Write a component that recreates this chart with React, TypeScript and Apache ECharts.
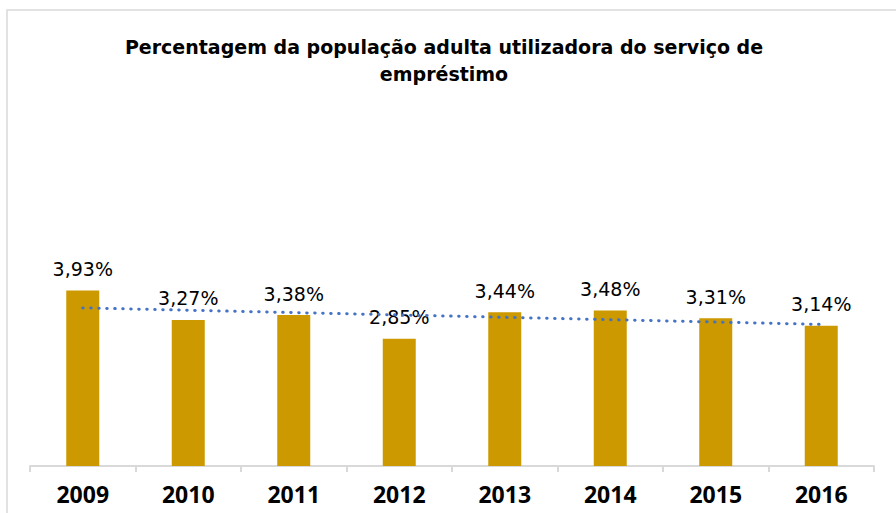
import React, { useEffect, useRef } from "react";
import * as echarts from "echarts";

const titleText = "Percentagem da população adulta utilizadora do serviço de\nempréstimo";
const years = ["2009", "2010", "2011", "2012", "2013", "2014", "2015", "2016"];
const values = [3.93, 3.27, 3.38, 2.85, 3.44, 3.48, 3.31, 3.14];
// linear trendline endpoints (first and last category)
const trendValues = [3.54, null, null, null, null, null, null, 3.17];

export default function App() {
  const ref = useRef<HTMLDivElement>(null);
  useEffect(() => {
    document.body.style.margin = "0";
    const chart = echarts.init(ref.current!, null, { renderer: "svg" });
    chart.setOption({
      animation: false,
      backgroundColor: "#ffffff",
      title: {
        text: titleText,
        left: 439,
        top: 28,
        textAlign: "center",
        textStyle: {
          fontFamily: "DejaVu Sans",
          fontWeight: "bold",
          fontSize: 19,
          lineHeight: 27,
          color: "#000000",
        },
      },
      graphic: [
        {
          type: "rect",
          shape: { x: 7, y: 10, width: 1200, height: 1200 },
          style: { fill: "none", stroke: "#d9d9d9", lineWidth: 1.5 },
          silent: true,
        },
      ],
      grid: { left: 30, right: 22, top: 265, bottom: 47 },
      xAxis: {
        type: "category",
        data: years,
        axisLine: { show: true, lineStyle: { color: "#d9d9d9", width: 2 } },
        axisTick: { show: true, length: 6, lineStyle: { color: "#d9d9d9", width: 2 } },
        axisLabel: {
          color: "#000000",
          fontFamily: "Open Sans",
          fontWeight: "bold",
          fontSize: 23,
          margin: 16,
        },
      },
      yAxis: {
        type: "value",
        min: 0,
        max: 4.5,
        show: false,
        splitLine: { show: false },
      },
      series: [
        {
          type: "bar",
          data: values,
          barWidth: 33,
          itemStyle: { color: "#cc9900" },
          label: {
            show: true,
            position: "top",
            distance: 12,
            formatter: (p: any) => p.value.toFixed(2).replace(".", ",") + "%",
            fontFamily: "DejaVu Sans",
            fontSize: 19,
            color: "#000000",
          },
          z: 2,
        },
        {
          type: "line",
          data: trendValues,
          connectNulls: true,
          symbol: "none",
          lineStyle: { color: "#4472c4", width: 3, type: [0.5, 7.5], cap: "round" },
          z: 3,
        },
      ],
    });
    return () => chart.dispose();
  }, []);
  return <div ref={ref} style={{ width: 896, height: 513 }} />;
}
